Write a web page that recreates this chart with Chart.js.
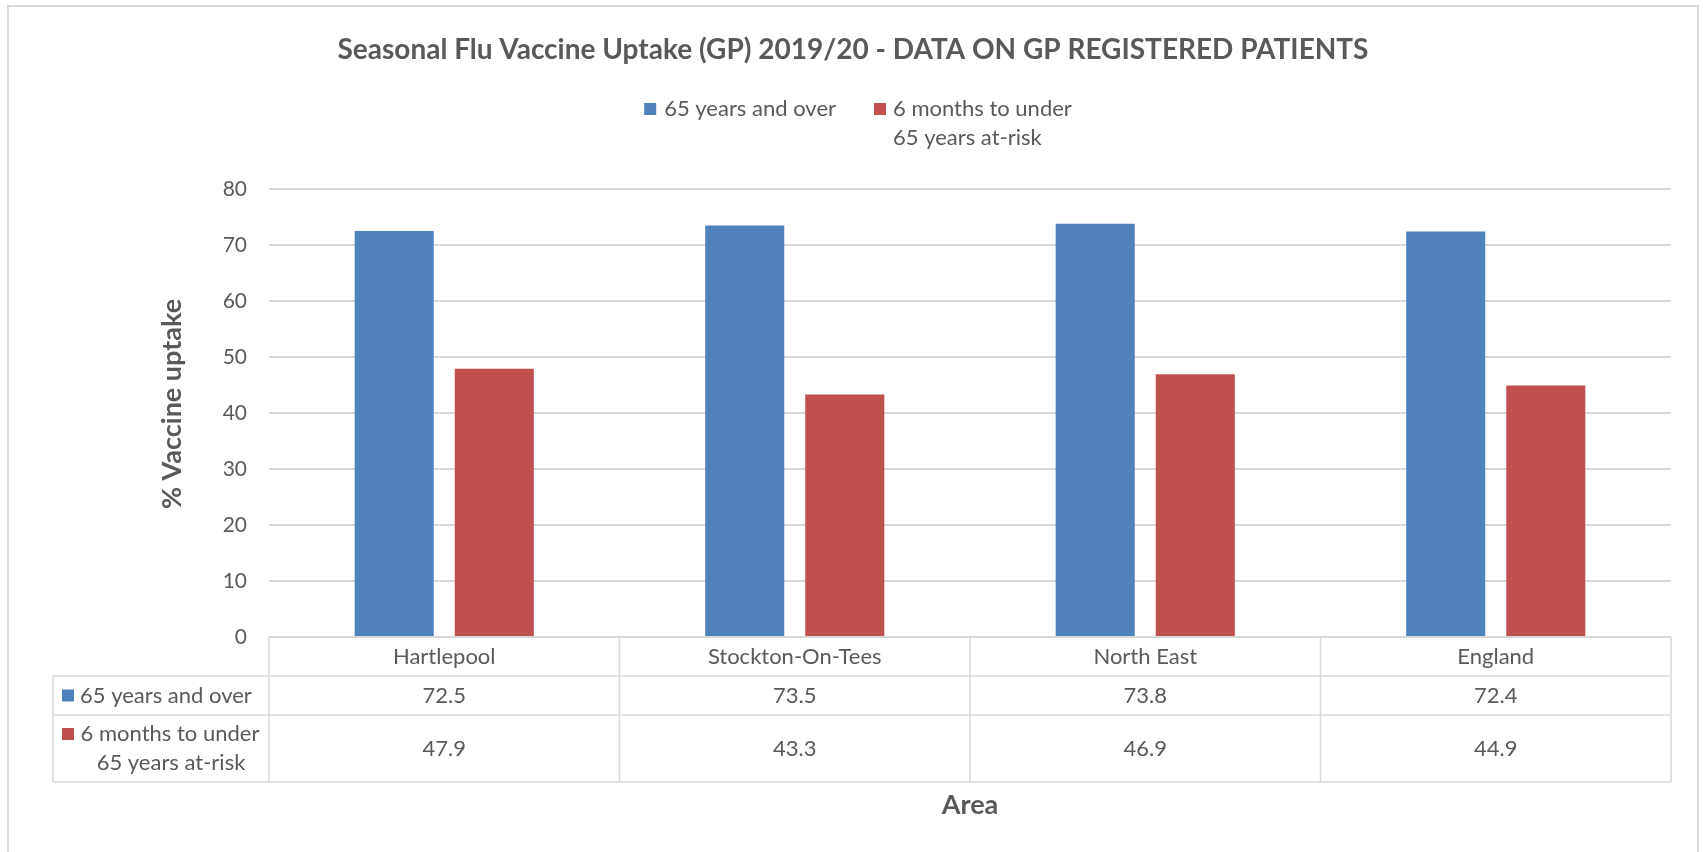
<!DOCTYPE html>
<html>
<head>
<meta charset="utf-8">
<script src="https://cdn.jsdelivr.net/npm/chart.js@4/dist/chart.umd.min.js"></script>
<style>
  html, body { margin: 0; padding: 0; background: #fff; }
  canvas { display: block; }
</style>
</head>
<body>
<canvas id="fluChart" width="1703" height="852"></canvas>
<script>
const areas = ["Hartlepool", "Stockton-On-Tees", "North East", "England"];
const seriesNames = ["65 years and over", ["6 months to under", "65 years at-risk"]];
const over65 = [72.5, 73.5, 73.8, 72.4];
const atRisk = [47.9, 43.3, 46.9, 44.9];
const seriesColors = ["#4f81bd", "#c0504d"];
const yMax = 80;
const yStep = 10;

const titleText = "Seasonal Flu Vaccine Uptake (GP) 2019/20 - DATA ON GP REGISTERED PATIENTS";
const yTitle = "% Vaccine uptake";
const xTitle = "Area";

const FONT = "Lato, 'Open Sans', sans-serif";
const TEXT = "#595959";
const LINE = "#d9d9d9";

// frame, title, legend, axis titles and data table drawn around the chart area
const decor = {
  id: 'decor',
  beforeDraw(chart) {
    const ctx = chart.ctx;
    ctx.save();
    ctx.strokeStyle = LINE;
    ctx.lineWidth = 2;
    ctx.beginPath();
    ctx.moveTo(8, 852); ctx.lineTo(8, 6); ctx.lineTo(1698, 6); ctx.lineTo(1698, 852);
    ctx.stroke();
    ctx.restore();
  },
  afterDraw(chart) {
    const ctx = chart.ctx;
    const area = chart.chartArea;
    const x = chart.scales.x;
    ctx.save();
    ctx.fillStyle = TEXT;
    ctx.textBaseline = 'middle';

    // title
    ctx.font = "bold 28px " + FONT;
    ctx.textAlign = 'center';
    ctx.fillText(titleText, 853, 50);

    // legend
    ctx.font = "22px " + FONT;
    ctx.textAlign = 'left';
    let w1 = ctx.measureText(seriesNames[0]).width;
    let w2 = Math.max(ctx.measureText(seriesNames[1][0]).width, ctx.measureText(seriesNames[1][1]).width);
    let total = 20 + w1 + 38 + 19 + w2;
    let lx = 858 - total / 2;
    ctx.fillStyle = seriesColors[0];
    ctx.fillRect(lx, 103, 12, 12);
    ctx.fillStyle = TEXT;
    ctx.fillText(seriesNames[0], lx + 20, 109);
    lx += 20 + w1 + 38;
    ctx.fillStyle = seriesColors[1];
    ctx.fillRect(lx, 103, 12, 12);
    ctx.fillStyle = TEXT;
    ctx.fillText(seriesNames[1][0], lx + 19, 109);
    ctx.fillText(seriesNames[1][1], lx + 19, 138);

    // y title
    ctx.save();
    ctx.translate(172, 404);
    ctx.rotate(-Math.PI / 2);
    ctx.font = "bold 27px " + FONT;
    ctx.textAlign = 'center';
    ctx.fillText(yTitle, 0, 0);
    ctx.restore();

    // data table
    const colW = x.width / areas.length;
    const r0 = area.bottom;
    const r1 = r0 + 39;
    const r2 = r1 + 39;
    const r3 = r2 + 67;
    const tLeft = 53;
    ctx.strokeStyle = LINE;
    ctx.lineWidth = 1.5;
    ctx.beginPath();
    [r1, r2, r3].forEach(function (ry) {
      ctx.moveTo(tLeft, ry); ctx.lineTo(area.right, ry);
    });
    for (let i = 0; i <= areas.length; i++) {
      let bx = x.left + i * colW;
      ctx.moveTo(bx, r0); ctx.lineTo(bx, r3);
    }
    ctx.moveTo(tLeft, r1); ctx.lineTo(tLeft, r3);
    ctx.stroke();

    ctx.font = "22px " + FONT;
    ctx.textAlign = 'center';
    for (let i = 0; i < areas.length; i++) {
      let cx = x.getPixelForValue(i);
      ctx.fillText(areas[i], cx, (r0 + r1) / 2);
      ctx.fillText(over65[i].toFixed(1), cx, (r1 + r2) / 2);
      ctx.fillText(atRisk[i].toFixed(1), cx, (r2 + r3) / 2);
    }

    // row keys
    ctx.fillStyle = seriesColors[0];
    ctx.fillRect(62, (r1 + r2) / 2 - 6, 12, 12);
    ctx.fillStyle = seriesColors[1];
    ctx.fillRect(62, 728, 12, 12);
    ctx.fillStyle = TEXT;
    ctx.textAlign = 'left';
    ctx.fillText(seriesNames[0], 80, (r1 + r2) / 2);
    ctx.textAlign = 'center';
    ctx.fillText(seriesNames[1][0], 170, 734);
    ctx.fillText(seriesNames[1][1], 171, 763);

    // x title
    ctx.font = "bold 27px " + FONT;
    ctx.fillText(xTitle, (area.left + area.right) / 2, 805);
    ctx.restore();
  }
};

window.addEventListener('load', function () {
  let context = document.querySelector("#fluChart").getContext('2d');
  new Chart(context, {
    type: 'bar',
    data: {
      labels: areas,
      datasets: [{
        label: seriesNames[0],
        backgroundColor: seriesColors[0],
        data: over65
      }, {
        label: seriesNames[1].join(" "),
        backgroundColor: seriesColors[1],
        data: atRisk
      }]
    },
    options: {
      responsive: false,
      animation: false,
      datasets: {
        bar: { categoryPercentage: 0.571, barPercentage: 0.79 }
      },
      layout: { padding: { left: 0, right: 32, top: 189, bottom: 215 } },
      plugins: {
        legend: { display: false },
        title: { display: false },
        tooltip: { enabled: false }
      },
      scales: {
        x: { display: false, offset: true },
        y: {
          min: 0,
          max: yMax,
          ticks: { stepSize: yStep, color: TEXT, font: { family: FONT, size: 21 }, padding: 22 },
          grid: { color: LINE, lineWidth: 2, drawTicks: false },
          border: { display: false },
          afterFit: function (scale) { scale.width = 269; }
        }
      }
    },
    plugins: [decor]
  });
});
</script>
</body>
</html>
